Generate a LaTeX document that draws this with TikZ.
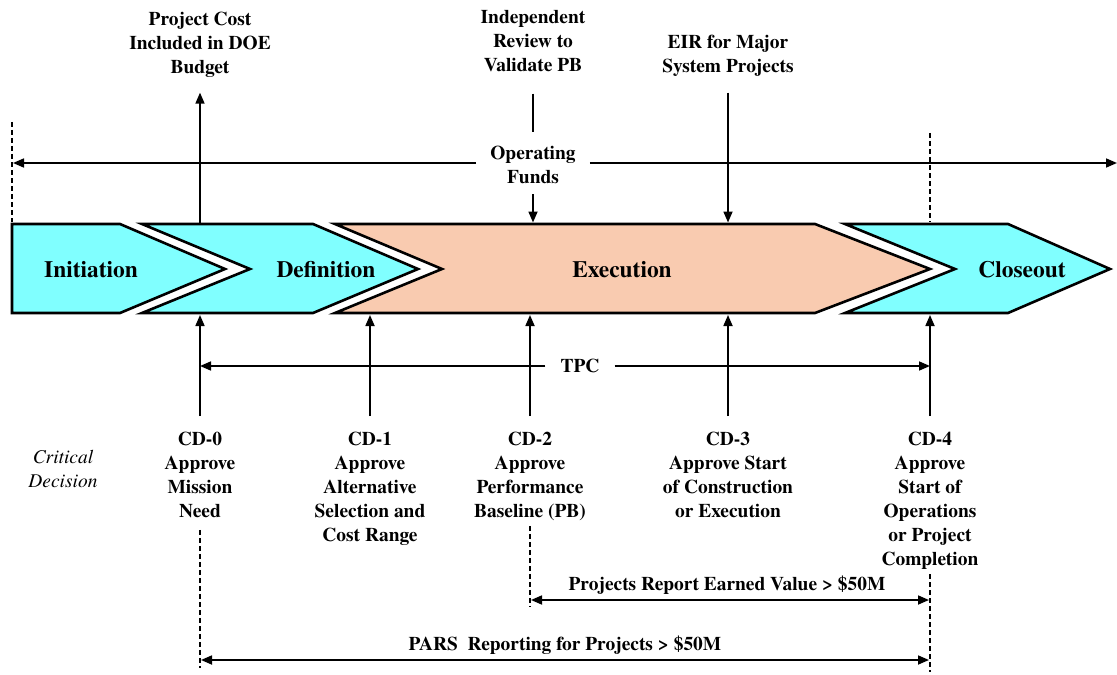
\documentclass[tikz,border=0pt]{standalone}
\usepackage{fontspec}
\setmainfont{TeX Gyre Termes}
\usetikzlibrary{arrows.meta}
\definecolor{phasecyan}{RGB}{128,255,255}
\definecolor{execsalmon}{RGB}{249,203,176}
\begin{document}
\begin{tikzpicture}[x=1bp,y=-1bp,
  lbl/.style={font=\fontsize{19.5}{24}\selectfont\bfseries, align=center, inner sep=0pt, anchor=north},
  ital/.style={font=\fontsize{19.5}{24}\selectfont\itshape, align=center, inner sep=0pt, anchor=north},
  phase/.style={font=\fontsize{23.5}{26}\selectfont\bfseries, inner sep=0pt},
  chev/.style={draw=black, line width=2.6bp, line join=miter},
  arr/.style={line width=1.7bp, -{Triangle[length=11bp,width=9bp]}},
  darr/.style={line width=1.7bp, {Triangle[length=11bp,width=9bp]}-{Triangle[length=11bp,width=9bp]}},
  plainln/.style={line width=1.7bp},
  dashv/.style={line width=1.2bp, dash pattern=on 5bp off 3bp},
]
\useasboundingbox (0,0) rectangle (1117,675);

% chevrons
\filldraw[chev, fill=phasecyan] (12,224) -- (120,224) -- (225,269) -- (120,313) -- (12,313) -- cycle;
\filldraw[chev, fill=phasecyan] (142,224) -- (313,224) -- (418,269) -- (313,313) -- (142,313) -- (250,269) -- cycle;
\filldraw[chev, fill=execsalmon] (335,224) -- (815,224) -- (930,269) -- (815,313) -- (335,313) -- (442,269) -- cycle;
\filldraw[chev, fill=phasecyan] (845,224) -- (1008,224) -- (1110,269) -- (1008,313) -- (845,313) -- (955,269) -- cycle;

\node[phase] (ini) at (91,270) {Initiation};
\node[phase] (def) at (326,270) {Definition};
\node[phase] (exe) at (622,270) {Execution};
\node[phase] (clo) at (1022,270) {Closeout};

% top labels
\node[lbl] (pc) at (200,12) {Project Cost\\Included in DOE\\Budget};
\node[lbl] (ir) at (533,10) {Independent\\Review to\\Validate PB};
\node[lbl] (eir) at (728,35) {EIR for Major\\System Projects};
\node[lbl, anchor=center, inner xsep=14bp] (of) at (533,165) {Operating\\Funds};

\coordinate (pcfoot) at (200,222.5);
\coordinate (irfoot) at (533,222.5);
\coordinate (eirfoot) at (728,222.5);
\coordinate (ofL) at (13,163);
\coordinate (ofR) at (1117,163);

\draw[arr, shorten >=15bp] (pcfoot) -- (pc.south);
\draw[plainln, shorten <=22bp, shorten >=14bp] (ir) -- (of);
\draw[arr, shorten <=10bp] (of.south) -- (irfoot);
\draw[arr, shorten <=16bp] (eir.south) -- (eirfoot);
\draw[arr] (of.west |- ofL) -- (ofL);
\draw[arr] (of.east |- ofR) -- (ofR);

\draw[dashv] (12,122) -- (12,222);
\draw[dashv] (930,133) -- (930,222);

% bottom labels
\node[ital] (crit) at (63,450) {Critical\\Decision};
\node[lbl] (cd0) at (200,432) {CD-0\\Approve\\Mission\\Need};
\node[lbl] (cd1) at (370,432) {CD-1\\Approve\\Alternative\\Selection and\\Cost Range};
\node[lbl] (cd2) at (530,432) {CD-2\\Approve\\Performance\\Baseline (PB)};
\node[lbl] (cd3) at (728,432) {CD-3\\Approve Start\\of Construction\\or Execution};
\node[lbl] (cd4) at (930,432) {CD-4\\Approve\\Start of\\Operations\\or Project\\Completion};

\coordinate (b0) at (200,315);
\coordinate (b1) at (370,315);
\coordinate (b2) at (530,315);
\coordinate (b3) at (728,315);
\coordinate (b4) at (930,315);
\foreach \n in {0,...,4} {
  \draw[arr, shorten <=16bp] (cd\n.north) -- (b\n);
}

\node[lbl, anchor=center, inner xsep=15bp] (tpc) at (580,366) {TPC};
\coordinate (tpcL) at (200,366);
\coordinate (tpcR) at (930,366);
\draw[arr] (tpc.west) -- (tpcL);
\draw[arr] (tpc.east) -- (tpcR);

\coordinate (d0) at (200,668);
\coordinate (d2) at (530,606);
\coordinate (d4) at (930,672);
\draw[dashv, shorten <=12bp] (cd0.south) -- (d0);
\draw[dashv, shorten <=5bp] (cd2.south) -- (d2);
\draw[dashv, shorten <=5bp] (cd4.south) -- (d4);

\node[lbl, anchor=center] (pr) at (727,585) {Projects Report Earned Value > \$50M};
\coordinate (prL) at (531,600);
\coordinate (prR) at (929,600);
\draw[darr] (prL) -- (prR);

\node[lbl, anchor=center] (pars) at (565,645) {PARS\ \ Reporting for Projects > \$50M};
\coordinate (paL) at (201,660);
\coordinate (paR) at (929,660);
\draw[darr] (paL) -- (paR);
\end{tikzpicture}
\end{document}
